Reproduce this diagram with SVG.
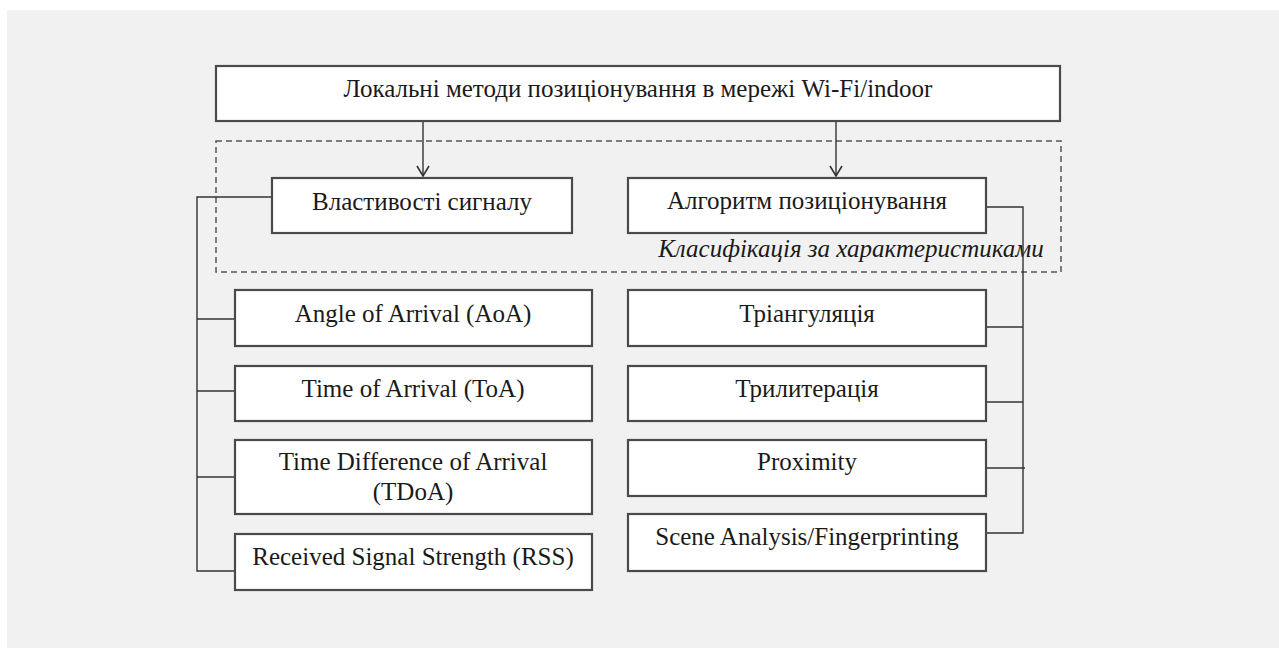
<svg xmlns="http://www.w3.org/2000/svg" width="1279" height="648" viewBox="0 0 1279 648">
  <style>
    .box { fill: #ffffff; stroke: #4a4a4a; stroke-width: 2.2; }
    .lbl { font-family: "Liberation Serif", "Times New Roman", serif; font-size: 25px; fill: #1a1a1a; text-anchor: middle; }
    .note { font-family: "Liberation Serif", "Times New Roman", serif; font-size: 25px; font-style: italic; fill: #1a1a1a; text-anchor: middle; }
    .wire { fill: none; stroke: #333333; stroke-width: 1.4; }
    .frame { fill: none; stroke: #555555; stroke-width: 1.5; stroke-dasharray: 6 4; }
  </style>
  <defs>
    <marker id="arrow" viewBox="0 0 12 14" refX="11" refY="7" markerWidth="12" markerHeight="14" markerUnits="userSpaceOnUse" orient="auto">
      <polyline points="1,1 11,7 1,13" fill="none" stroke="#333333" stroke-width="1.6"/>
    </marker>
  </defs>

  <!-- page background -->
  <rect x="0" y="0" width="1279" height="648" fill="#ffffff"/>
  <rect x="7" y="10" width="1272" height="638" fill="#f1f1f1"/>

  <!-- grouping frame for the two classification criteria -->
  <g id="classification-frame">
    <rect class="frame" x="216" y="141" width="845" height="131"/>
    <text class="note" x="851" y="257">Класифікація за характеристиками</text>
  </g>

  <!-- connectors -->
  <g id="connectors">
    <line class="wire" x1="423" y1="121" x2="423" y2="176" marker-end="url(#arrow)"/>
    <line class="wire" x1="836" y1="121" x2="836" y2="176" marker-end="url(#arrow)"/>
    <!-- signal properties branch -->
    <polyline class="wire" points="272,197 197,197 197,571 235,571"/>
    <line class="wire" x1="197" y1="319" x2="235" y2="319"/>
    <line class="wire" x1="197" y1="391" x2="235" y2="391"/>
    <line class="wire" x1="197" y1="477" x2="235" y2="477"/>
    <!-- positioning algorithm branch -->
    <polyline class="wire" points="986,207 1023,207 1023,533 986,533"/>
    <line class="wire" x1="986" y1="327" x2="1023" y2="327"/>
    <line class="wire" x1="986" y1="402" x2="1023" y2="402"/>
    <line class="wire" x1="986" y1="468" x2="1025" y2="468"/>
  </g>

  <g id="root">
    <rect class="box" x="216" y="66" width="844" height="55"/>
    <text class="lbl" x="638" y="97">Локальні методи позиціонування в мережі Wi-Fi/indoor</text>
  </g>

  <g id="signal-properties">
    <rect class="box" x="272" y="178" width="300" height="55"/>
    <text class="lbl" x="422" y="210">Властивості сигналу</text>
  </g>

  <g id="positioning-algorithm">
    <rect class="box" x="628" y="178" width="358" height="55"/>
    <text class="lbl" x="807" y="209">Алгоритм позиціонування</text>
  </g>

  <g id="aoa">
    <rect class="box" x="235" y="290" width="357" height="56"/>
    <text class="lbl" x="413" y="322">Angle of Arrival (AoA)</text>
  </g>

  <g id="toa">
    <rect class="box" x="235" y="366" width="357" height="55"/>
    <text class="lbl" x="413" y="397">Time of Arrival (ToA)</text>
  </g>

  <g id="tdoa">
    <rect class="box" x="235" y="440" width="357" height="74"/>
    <text class="lbl" x="413" y="470">Time Difference of Arrival</text>
    <text class="lbl" x="413" y="500">(TDoA)</text>
  </g>

  <g id="rss">
    <rect class="box" x="235" y="534" width="357" height="56"/>
    <text class="lbl" x="413" y="565">Received Signal Strength (RSS)</text>
  </g>

  <g id="triangulation">
    <rect class="box" x="628" y="290" width="358" height="56"/>
    <text class="lbl" x="807" y="322">Тріангуляція</text>
  </g>

  <g id="trilateration">
    <rect class="box" x="628" y="366" width="358" height="55"/>
    <text class="lbl" x="807" y="397">Трилитерація</text>
  </g>

  <g id="proximity">
    <rect class="box" x="628" y="440" width="358" height="56"/>
    <text class="lbl" x="807" y="470">Proximity</text>
  </g>

  <g id="fingerprinting">
    <rect class="box" x="628" y="514" width="358" height="57"/>
    <text class="lbl" x="807" y="545">Scene Analysis/Fingerprinting</text>
  </g>
</svg>
